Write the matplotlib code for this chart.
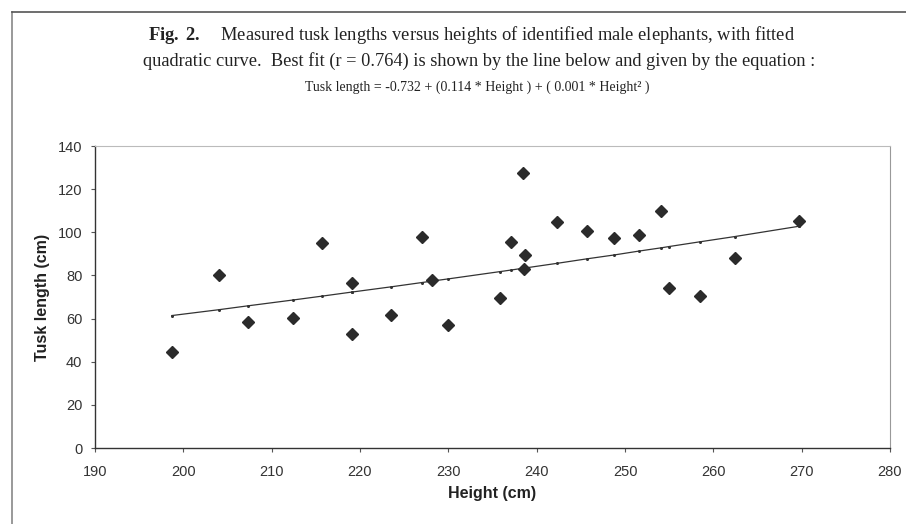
import matplotlib
matplotlib.use("Agg")
import matplotlib.pyplot as plt
from matplotlib.lines import Line2D

plt.rcParams["mathtext.fontset"] = "custom"
plt.rcParams["mathtext.rm"] = "Liberation Serif"
plt.rcParams["mathtext.bf"] = "Liberation Serif:bold"
plt.rcParams["mathtext.it"] = "Liberation Serif:italic"

# Data
height = [198.7, 204.0, 207.3, 212.4, 215.7, 219.1, 219.1, 223.5, 227.0, 228.2,
          230.0, 235.9, 237.1, 238.4, 238.7, 238.6, 242.3, 245.7, 248.8, 251.6,
          254.1, 255.0, 258.5, 262.4, 269.7]
tusk = [44.6, 80.0, 58.3, 60.1, 95.0, 76.6, 52.9, 61.7, 97.7, 77.9,
        56.9, 69.4, 95.6, 127.3, 89.5, 83.0, 104.6, 100.7, 97.5, 98.7,
        109.9, 74.3, 70.5, 88.2, 105.4]
fitted = [61.4, 64.1, 65.9, 68.6, 70.4, 72.3, 72.3, 74.7, 76.7, 77.4,
          78.4, 81.8, 82.5, 83.3, 83.5, 83.4, 85.6, 87.7, 89.5, 91.3,
          92.8, 93.4, 95.6, 98.0, 102.8]
xticks = [190, 200, 210, 220, 230, 240, 250, 260, 270, 280]
yticks = [0, 20, 40, 60, 80, 100, 120, 140]

W, H = 906, 524
fig = plt.figure(figsize=(W / 100, H / 100), dpi=100)
ax = fig.add_axes([95 / W, 1 - 448 / H, (890 - 95) / W, (448 - 146) / H])

# fitted curve with small dots
ax.plot(height, fitted, color="#333333", lw=0.9, marker="o", ms=2.2,
        markerfacecolor="#333333", markeredgewidth=0, zorder=2)
# measured points
ax.plot(height, tusk, linestyle="none", marker="D", ms=5.8,
        color="#2b2b2b", zorder=3)

ax.set_xlim(190, 280)
ax.set_ylim(0, 140)
ax.set_xticks(xticks)
ax.set_yticks(yticks)
ax.set_xticklabels([str(v) for v in xticks], fontfamily="Liberation Sans",
                   fontsize=10.5, color="#333333")
ax.set_yticklabels([str(v) for v in yticks], fontfamily="Liberation Sans",
                   fontsize=10.5, color="#333333")
ax.tick_params(axis="both", direction="out", length=3, width=0.8,
               colors="#555555", labelcolor="#333333")
ax.tick_params(axis="x", pad=9)
ax.tick_params(axis="y", pad=6)

for s in ("left", "bottom"):
    ax.spines[s].set_color("#333333")
    ax.spines[s].set_linewidth(1.0)
ax.spines["top"].set_color("#bbbbbb")
ax.spines["top"].set_linestyle((0, (2, 1)))
ax.spines["top"].set_linewidth(0.8)
ax.spines["right"].set_color("#999999")
ax.spines["right"].set_linewidth(0.8)

ax.set_xlabel("Height (cm)", fontfamily="Liberation Sans", fontweight="bold",
              fontsize=11.5, color="#222222", labelpad=5)
ax.set_ylabel("Tusk length (cm)", fontfamily="Liberation Sans",
              fontweight="bold", fontsize=11.5, color="#222222", labelpad=6)

# title block
fig.text(472 / W, 1 - 35 / H,
         r"$\mathbf{Fig.\ 2.}$    Measured tusk lengths versus heights of identified male elephants, with fitted",
         ha="center", va="center", fontfamily="Liberation Serif", fontsize=13.3,
         color="#222222")
fig.text(479 / W, 1 - 61 / H,
         "quadratic curve.  Best fit (r = 0.764) is shown by the line below and given by the equation :",
         ha="center", va="center", fontfamily="Liberation Serif", fontsize=13.2,
         color="#222222")
fig.text(477 / W, 1 - 87 / H,
         "Tusk length = -0.732 + (0.114 * Height ) + ( 0.001 * Height² )",
         ha="center", va="center", fontfamily="Liberation Serif", fontsize=10,
         color="#222222")

# page frame lines
fig.add_artist(Line2D([12 / W, 12 / W], [0, 1 - 12 / H], transform=fig.transFigure,
                      color="#888888", lw=1.2))
fig.add_artist(Line2D([12 / W, 1], [1 - 12 / H, 1 - 12 / H], transform=fig.transFigure,
                      color="#555555", lw=1.2))

fig.savefig("out.png", dpi=100)
